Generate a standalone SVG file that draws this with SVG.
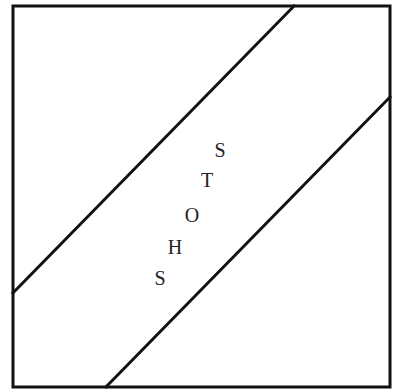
<svg xmlns="http://www.w3.org/2000/svg" width="396" height="392" viewBox="0 0 396 392">
<style>
.ln{stroke:#111;stroke-width:3;fill:none;stroke-linecap:square}
.t{font-family:"Liberation Serif",serif;font-size:20px;fill:#222;text-anchor:middle}
</style>
<rect width="396" height="392" fill="#fff"/>
<g id="frame"><rect class="ln" x="13" y="6" width="377" height="381"/></g>
<g id="connectors">
<line class="ln" x1="294" y1="6" x2="13" y2="293"/>
<line class="ln" x1="390" y1="97" x2="106" y2="387"/>
</g>
<g id="label">
<text class="t" x="220" y="157">S</text>
<text class="t" x="207" y="187">T</text>
<text class="t" x="192" y="222">O</text>
<text class="t" x="175" y="254">H</text>
<text class="t" x="160" y="285">S</text>
</g>
</svg>
